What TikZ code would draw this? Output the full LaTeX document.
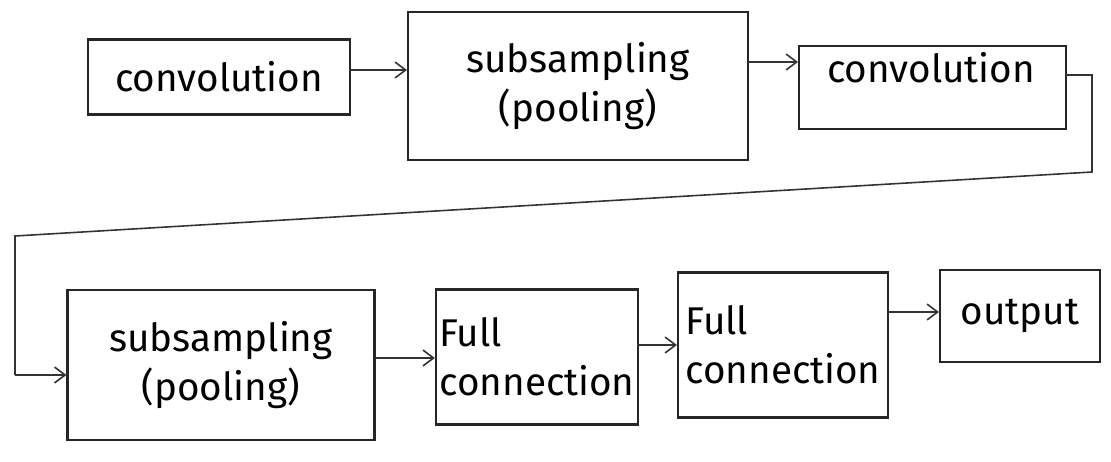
\documentclass[tikz,border=0pt]{standalone}
\usepackage{fontspec}
\setmainfont{Fira Sans}
\usetikzlibrary{arrows.meta}
\begin{document}
\begin{tikzpicture}[x=0.02cm,y=-0.02cm,
  box/.style={draw=black!85,line width=1.2pt,inner sep=2pt,font=\fontsize{22}{28}\selectfont},
  arr/.style={draw=black!80,line width=0.9pt,-{Straight Barb[length=6pt,width=9pt]}},
  ln/.style={draw=black!80,line width=0.9pt}]
\useasboundingbox (0,0) rectangle (1111,462);
\node[box,minimum width=262*0.02cm,minimum height=75*0.02cm] (b1) at (219,77) {convolution};
\node[box,minimum width=340*0.02cm,minimum height=148*0.02cm,align=center] (b2) at (578,86) {subsampling\\(pooling)};
\node[box,minimum width=267*0.02cm,minimum height=83*0.02cm,anchor=north west] (b3) at (798,45) {};
\node[font=\fontsize{22}{28}\selectfont] (t3) at (931,68) {convolution};
\node[box,minimum width=307*0.02cm,minimum height=150*0.02cm,align=center] (b4) at (221,365) {subsampling\\(pooling)};
\node[box,minimum width=200*0.02cm,minimum height=135*0.02cm,align=left] (b5) at (537,357) {Full\\connection};
\node[box,minimum width=210*0.02cm,minimum height=145*0.02cm,align=left] (b6) at (783,345) {Full\\connection};
\node[box,minimum width=160*0.02cm,minimum height=92*0.02cm] (b7) at (1020,316) {output};
\coordinate (a1) at (350,70);
\draw[arr] (a1) -- (a1 -| b2.west);
\coordinate (a2) at (748,62);
\draw[arr] (a2) -- (a2 -| b3.west);
\coordinate (c1) at (1065,75);
\coordinate (c2) at (1092,75);
\coordinate (c3) at (1092,172);
\coordinate (c4) at (15,236);
\coordinate (c5) at (15,375);
\draw[ln] (c1) -- (c2) -- (c3) -- (c4) -- (c5);
\draw[arr] (c5) -- (c5 -| b4.west);
\coordinate (a4) at (375,358);
\draw[arr] (a4) -- (a4 -| b5.west);
\coordinate (a5) at (637,345);
\draw[arr] (a5) -- (a5 -| b6.west);
\coordinate (a6) at (888,312);
\draw[arr] (a6) -- (a6 -| b7.west);
\end{tikzpicture}
\end{document}
